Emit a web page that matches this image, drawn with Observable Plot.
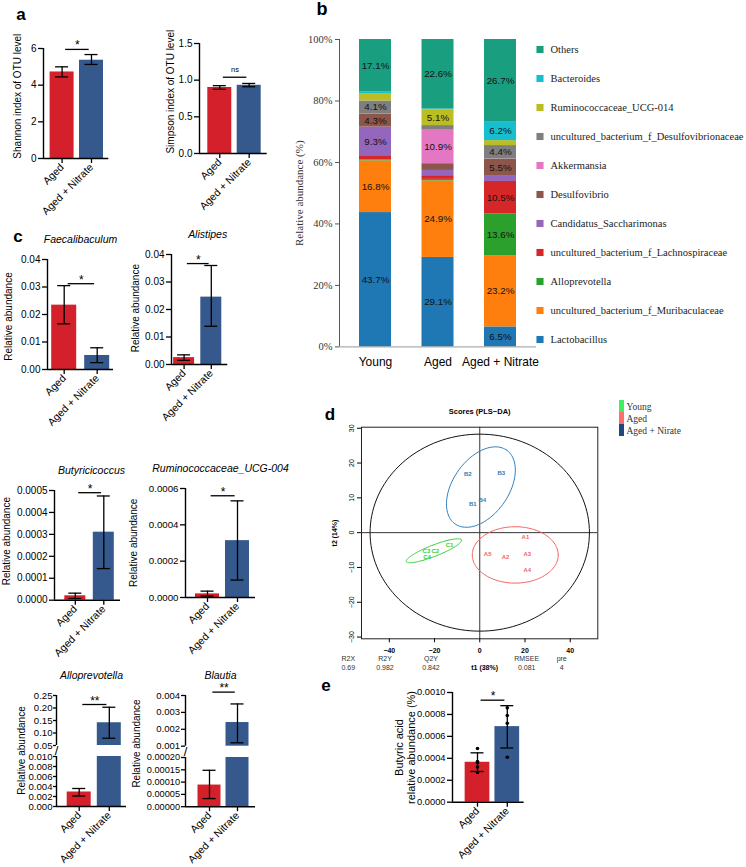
<!DOCTYPE html>
<html>
<head>
<meta charset="utf-8">
<script src="https://cdn.jsdelivr.net/npm/d3@7"></script>
<script src="https://cdn.jsdelivr.net/npm/@observablehq/plot@0.6"></script>
<style>
  html, body { margin: 0; padding: 0; background: #fff; }
  #fig { position: relative; width: 746px; height: 867px; overflow: hidden; background: #fff;
         font-family: "Liberation Sans", Arial, Helvetica, sans-serif; }
  .plab { position: absolute; font-weight: bold; line-height: 1; color: #000; transform: translateX(-50%); }
  .stat { position: absolute; font-size: 7px; line-height: 9.4px; color: #333; transform: translateX(-50%);
          text-align: center; white-space: nowrap; }
</style>
</head>
<body>
<div id="fig"></div>
<script>
// ================= DATA =================
const groups2 = ["Aged", "Aged + Nitrate"];

// panel a
const shannonMean = [4.72, 5.36], shannonLo = [4.45, 5.13], shannonHi = [5.00, 5.67], shannonSig = 5.95;
const shannonTicks = [0, 2, 4, 6];
const simpsonMean = [0.90, 0.93], simpsonLo = [0.875, 0.91], simpsonHi = [0.925, 0.955], simpsonSig = 1.04;
const simpsonTicks = [0, 0.5, 1.0, 1.5];

// panel c
const faecMean = [0.0234, 0.0051], faecLo = [0.0166, 0.0025], faecHi = [0.0305, 0.0079], faecSig = 0.0312;
const faecTicks = [0, 0.01, 0.02, 0.03, 0.04];
const alisMean = [0.0025, 0.0245], alisLo = [0.0015, 0.0139], alisHi = [0.0035, 0.0360], alisSig = 0.0367;
const alisTicks = [0, 0.01, 0.02, 0.03, 0.04];
const butyMean = [0.00002, 0.00031], butyLo = [0.000008, 0.000144], butyHi = [0.000032, 0.000475], butySig = 0.00049;
const butyTicks = [0, 0.0001, 0.0002, 0.0003, 0.0004, 0.0005];
const rumiMean = [0.00002, 0.000313], rumiLo = [0.000008, 0.000096], rumiHi = [0.000035, 0.000532], rumiSig = 0.00056;
const rumiTicks = [0, 0.0002, 0.0004, 0.0006];
const alloMean = [0.0029, 0.141], alloLo = [0.0021, 0.079], alloHi = [0.0036, 0.203], alloSig = 0.214;
const alloUpperTicks = [0.05, 0.10, 0.15, 0.20, 0.25];
const alloLowerTicks = [0, 0.002, 0.004, 0.006, 0.008, 0.010];
const blauMean = [0.000088, 0.0024], blauLo = [0.000033, 0.0012], blauHi = [0.000148, 0.0035], blauSig = 0.0042;
const blauUpperTicks = [0.001, 0.002, 0.003, 0.004];
const blauLowerTicks = [0, 0.00005, 0.00010, 0.00015, 0.00020];

// panel e
const butyrateMean = [0.000364, 0.000689], butyrateLo = [0.00028, 0.000494], butyrateHi = [0.00045, 0.00088], butyrateSig = 0.00093;
const butyrateDotsAged = [0.00049, 0.00037, 0.00036, 0.00032, 0.00027];
const butyrateDotsNitrate = [0.00086, 0.00079, 0.00072, 0.00041];
const butyrateTicks = [0, 0.0002, 0.0004, 0.0006, 0.0008, 0.0010];

// panel b
const groups3 = ["Young", "Aged", "Aged + Nitrate"];
const taxa = ["Lactobacillus", "uncultured_bacterium_f_Muribaculaceae", "Alloprevotella",
  "uncultured_bacterium_f_Lachnospiraceae", "Candidatus_Saccharimonas", "Desulfovibrio", "Akkermansia",
  "uncultured_bacterium_f_Desulfovibrionaceae", "Ruminococcaceae_UCG-014", "Bacteroides", "Others"];
const taxaColors = ["#1f77b4", "#ff7f0e", "#2ca02c", "#d62728", "#9467bd", "#8c564b", "#e377c2",
  "#7f7f7f", "#bcbd22", "#17becf", "#1a9e80"];
const youngPct   = [43.7, 16.8, 0.3, 1.4, 9.3, 4.3, 0.1, 4.1, 2.4, 0.5, 17.1];
const agedPct    = [29.1, 24.9, 0.5, 1.2, 1.7, 2.2, 10.9, 1.5, 5.1, 0.3, 22.6];
const nitratePct = [6.5, 23.2, 13.6, 10.5, 1.7, 5.5, 0.1, 4.4, 1.6, 6.2, 26.7];
const pctTicks = [0, 20, 40, 60, 80, 100];

// panel d
const groupsD = ["Young", "Aged", "Aged + Nirate"];
const groupsDColors = ["#2fcf2f", "#f26262", "#2b7bbb"];
const legendDColors = ["#3fef5f", "#ff6e6e", "#1d4a7a"];
const scoreIds = ["A1", "A2", "A3", "A4", "A5", "B1", "B2", "B3", "B4", "C1", "C2", "C3", "C4"];
const scoreT1  = [20.2, 11.4, 21.0, 21.0, 3.5, -3.1, -5.3, 9.5, 1.1, -13.4, -19.7, -23.6, -23.3];
const scoreT2  = [-1.4, -7.0, -6.2, -10.8, -6.2, 8.3, 16.9, 17.2, 9.4, -3.5, -5.2, -5.2, -6.9];
const ellCx = [-20.3, 15.7, 0.5], ellCy = [-5.2, -6.4, 13.1];
const ellU = [[12.2, 3.1], [19.0, 0], [11.4, 10.6]];
const ellV = [[-0.9, 1.5], [0, 8.1], [-10.1, 4.6]];
const hotellingR = [48.5, 28.3];
const dXTicks = [-40, -20, 0, 20, 40], dYTicks = [-30, -20, -10, 0, 10, 20, 30];
const statNames = ["R2X", "R2Y", "Q2Y", "RMSEE", "pre"];
const statValues = ["0.69", "0.982", "0.842", "0.081", "4"];

// ================= RENDER =================
const RED = "#d4202a", BLUE = "#35598c";
const SANS = '"Liberation Sans", Arial, Helvetica, sans-serif';
const SERIF = '"Liberation Serif", "Times New Roman", Times, serif';
const MID = {textAnchor: "middle", lineAnchor: "middle"};
const fig = document.getElementById("fig");
function css(left, top) {
  return {position: "absolute", left: left + "px", top: top + "px", background: "transparent",
          overflow: "visible", fontFamily: SANS, maxWidth: "none"};
}
function add(node) { fig.appendChild(node); }

function gpPanel(c) {
  const step = c.c1 - c.c0;
  const xmin = (c.axisX - c.c0) / step, xmax = (c.axisEnd - c.c0) / step;
  const half = c.barW / 2 / step, cap = 6.5 / step;
  const ML = 80, MR = 14, MT = 40, MB = 90;
  const [d0, d1] = c.domain;
  const rows = c.mean.map((m, i) => ({i, m, lo: c.lo[i], hi: c.hi[i], color: i === 0 ? RED : BLUE}));
  const bars = rows.filter(r => r.m > d0);
  const errs = rows.filter(r => r.m >= d0 && r.m <= d1);
  const tf = c.tickFont || 10;
  const marks = [
    Plot.rect(bars, {x1: r => r.i - half, x2: r => r.i + half, y1: d0, y2: r => Math.min(r.m, d1), fill: "color"})
  ];
  if (c.dots) {
    const pts = c.dots.flatMap((arr, i) => arr.map(v => ({i, v})));
    marks.push(Plot.dot(pts, {x: "i", y: "v", r: 1.8, fill: "black", stroke: "none"}));
  }
  marks.push(
    Plot.ruleX(errs, {x: "i", y1: "lo", y2: "hi", stroke: "black", strokeWidth: 1.3}),
    Plot.ruleY(errs, {y: "lo", x1: r => r.i - cap, x2: r => r.i + cap, stroke: "black", strokeWidth: 1.3}),
    Plot.ruleY(errs, {y: "hi", x1: r => r.i - cap, x2: r => r.i + cap, stroke: "black", strokeWidth: 1.3}),
    Plot.ruleX([xmin], {stroke: "black", strokeWidth: 1.4}),
    Plot.axisY({ticks: c.ticks, tickFormat: c.fmt, tickSize: c.tickSize ?? 5, tickPadding: c.tickPadding ?? 2,
      fontSize: tf, strokeWidth: 1.3, label: null})
  );
  if (c.xAxis) {
    marks.push(Plot.ruleY([d0], {stroke: "black", strokeWidth: 1.4}));
    marks.push(Plot.axisX({ticks: [0, 1], tickFormat: i => groups2[i], tickRotate: -45, tickSize: 5, tickPadding: 2,
      fontSize: 10.5, strokeWidth: 1.3, label: null}));
  }
  if (c.sig != null) {
    const ns = c.sigText === "ns";
    marks.push(Plot.ruleY([c.sig], {x1: 0.12, x2: 0.92, stroke: "black", strokeWidth: 1.3}));
    marks.push(Plot.text([c.sigText], {x: 0.52, y: c.sig, text: d => d, dy: ns ? -7.5 : -3.8,
      fontSize: ns ? 7.5 : 12, ...MID}));
  }
  if (c.title) marks.push(Plot.text([c.title], {frameAnchor: "top", text: d => d, dy: -19.5, dx: c.titleDx || 0,
    fontStyle: "italic", fontSize: 10.5, ...MID}));
  if (c.ylabel) marks.push(Plot.text([c.ylabel], {frameAnchor: "top-left", text: d => d, rotate: -90,
    dx: c.ylabelX - c.axisX, dy: c.ylabelY - c.yTop, fontSize: c.ylabelFont || 10, lineHeight: 1.1, ...MID}));
  if (c.breakMark) marks.push(Plot.text(["/"], {frameAnchor: "top-left", text: d => d, dy: -5.3, fontSize: 13, ...MID}));
  add(Plot.plot({
    width: ML + (c.axisEnd - c.axisX) + MR,
    height: MT + (c.yBot - c.yTop) + MB,
    marginLeft: ML, marginRight: MR, marginTop: MT, marginBottom: MB,
    x: c.xAxis ? {domain: [xmin, xmax]} : {domain: [xmin, xmax], axis: null},
    y: {domain: c.domain},
    color: {type: "identity"},
    style: css(c.axisX - ML, c.yTop - MT),
    marks
  }));
}

const f1 = d => d.toFixed(1), f2 = d => d.toFixed(2), f3 = d => d.toFixed(3), f4 = d => d.toFixed(4), f5 = d => d.toFixed(5);

// ---- panel a ----
gpPanel({mean: shannonMean, lo: shannonLo, hi: shannonHi, domain: [0, 6], ticks: shannonTicks, fmt: d => String(d),
  axisX: 42.7, axisEnd: 108, c0: 61.3, c1: 90.7, barW: 24, yTop: 48.3, yBot: 158.3, xAxis: true,
  sig: shannonSig, sigText: "*", ylabel: "Shannon index of OTU level", ylabelX: 17, ylabelY: 96});
gpPanel({mean: simpsonMean, lo: simpsonLo, hi: simpsonHi, domain: [0, 1.5], ticks: simpsonTicks, fmt: f1,
  axisX: 199, axisEnd: 266.7, c0: 219.3, c1: 248.7, barW: 24, yTop: 43.3, yBot: 153.3, xAxis: true,
  sig: simpsonSig, sigText: "ns", ylabel: "Simpson index of OTU level", ylabelX: 170, ylabelY: 91.5});

// ---- panel c ----
gpPanel({mean: faecMean, lo: faecLo, hi: faecHi, domain: [0, 0.04], ticks: faecTicks, fmt: f2,
  axisX: 47, axisEnd: 113, c0: 63.7, c1: 96.7, barW: 25, yTop: 259, yBot: 369, xAxis: true,
  sig: faecSig, sigText: "*", title: "Faecalibaculum", ylabel: "Relative abundance", ylabelX: 8, ylabelY: 316});
gpPanel({mean: alisMean, lo: alisLo, hi: alisHi, domain: [0, 0.04], ticks: alisTicks, fmt: f2,
  axisX: 170.7, axisEnd: 227, c0: 183.3, c1: 210.5, barW: 21, yTop: 254.3, yBot: 364.3, xAxis: true,
  sig: alisSig, sigText: "*", title: "Alistipes", titleDx: 8, ylabel: "Relative abundance", ylabelX: 135, ylabelY: 308});
gpPanel({mean: butyMean, lo: butyLo, hi: butyHi, domain: [0, 0.0005], ticks: butyTicks, fmt: f4,
  axisX: 54, axisEnd: 120, c0: 74.8, c1: 103.3, barW: 21, yTop: 490.3, yBot: 600, xAxis: true,
  sig: butySig, sigText: "*", title: "Butyricicoccus", titleDx: 4, ylabel: "Relative abundance", ylabelX: 6, ylabelY: 541});
gpPanel({mean: rumiMean, lo: rumiLo, hi: rumiHi, domain: [0, 0.0006], ticks: rumiTicks, fmt: f4,
  axisX: 185, axisEnd: 255, c0: 207, c1: 237, barW: 24, yTop: 487.7, yBot: 596.7, xAxis: true, tickFont: 9.7,
  sig: rumiSig, sigText: "*", title: "Ruminococcaceae_UCG-004", ylabel: "Relative abundance", ylabelX: 133, ylabelY: 542});
// Alloprevotella (broken axis)
gpPanel({mean: alloMean, lo: alloLo, hi: alloHi, domain: [0.05, 0.25], ticks: alloUpperTicks, fmt: f2,
  axisX: 56, axisEnd: 126, c0: 78.7, c1: 108.8, barW: 24, yTop: 695, yBot: 745, xAxis: false,
  tickSize: 3, tickPadding: 1, tickFont: 9.6,
  sig: alloSig, sigText: "**", title: "Alloprevotella", ylabel: "Relative abundance", ylabelX: 21, ylabelY: 750});
gpPanel({mean: alloMean, lo: alloLo, hi: alloHi, domain: [0, 0.010], ticks: alloLowerTicks, fmt: f3,
  axisX: 56, axisEnd: 126, c0: 78.7, c1: 108.8, barW: 24, yTop: 755.7, yBot: 805.7, xAxis: true, breakMark: true,
  tickSize: 3, tickPadding: 1, tickFont: 9.6});
// Blautia (broken axis)
gpPanel({mean: blauMean, lo: blauLo, hi: blauHi, domain: [0.001, 0.004], ticks: blauUpperTicks, fmt: f3,
  axisX: 185, axisEnd: 255, c0: 209, c1: 237, barW: 23, yTop: 695, yBot: 745.7, xAxis: false, tickFont: 9.5,
  tickSize: 4, tickPadding: 1.5,
  sig: blauSig, sigText: "**", title: "Blautia", ylabel: "Relative abundance", ylabelX: 136, ylabelY: 743});
gpPanel({mean: blauMean, lo: blauLo, hi: blauHi, domain: [0, 0.0002], ticks: blauLowerTicks, fmt: f5,
  axisX: 185, axisEnd: 255, c0: 209, c1: 237, barW: 23, yTop: 756.5, yBot: 805.7, xAxis: true, tickFont: 9.2, breakMark: true,
  tickSize: 4, tickPadding: 1.5});

// ---- panel e ----
gpPanel({mean: butyrateMean, lo: butyrateLo, hi: butyrateHi, dots: [butyrateDotsAged, butyrateDotsNitrate],
  domain: [0, 0.001], ticks: butyrateTicks, fmt: f4, tickFont: 9.3,
  axisX: 451.7, axisEnd: 523.3, c0: 476.7, c1: 506.5, barW: 24.7, yTop: 692, yBot: 801.7, xAxis: true,
  sig: butyrateSig, sigText: "*", ylabel: "Butyric acid\nrelative abundance (%)", ylabelX: 404, ylabelY: 747, ylabelFont: 11});

// ---- panel b ----
{
  const step = 62.5, c0 = 375, axisX = 339, axisEnd = 536;
  const xmin = (axisX - c0) / step, xmax = (axisEnd - c0) / step, hw = 16 / step;
  const yTop = 39.3, yBot = 346.7;
  const ML = 70, MR = 0, MT = 20, MB = 30;
  const pct = [youngPct, agedPct, nitratePct];
  const rows = groups3.flatMap((g, gi) => taxa.map((t, ti) => ({gi, taxon: t, value: pct[gi][ti]})));
  add(Plot.plot({
    width: ML + axisEnd - axisX + MR, height: MT + yBot - yTop + MB,
    marginLeft: ML, marginRight: MR, marginTop: MT, marginBottom: MB,
    x: {domain: [xmin, xmax]}, y: {domain: [0, 100]},
    color: {domain: taxa, range: taxaColors},
    style: css(axisX - ML, yTop - MT),
    marks: [
      Plot.rect(rows, Plot.stackY({x: "gi", y: "value", z: "taxon", order: taxa,
        x1: d => d.gi - hw, x2: d => d.gi + hw, fill: "taxon"})),
      Plot.text(rows, Plot.stackY({x: "gi", y: "value", z: "taxon", order: taxa,
        text: d => d.value >= 4 ? d.value.toFixed(1) + "%" : "", fontSize: 9.8, fill: "#111"})),
      Plot.ruleY([0], {stroke: "#999"}),
      Plot.ruleX([xmin], {stroke: "#555"}),
      Plot.axisY({ticks: pctTicks, tickFormat: d => d + "%", tickSize: 4, tickPadding: 3,
        fontFamily: SERIF, fontSize: 10.5, fill: "#333", stroke: "#555", label: null}),
      Plot.axisX({ticks: [0, 1, 2], tickFormat: i => groups3[i], tickSize: 0, tickPadding: 11,
        fontSize: 12, label: null}),
      Plot.text(["Relative abundance (%)"], {frameAnchor: "left", text: d => d, rotate: -90, dx: -40,
        fontFamily: SERIF, fontSize: 11, fill: "#333", ...MID})
    ]
  }));
  // legend
  const legendOrder = taxa.slice().reverse();
  add(Plot.plot({
    width: 216, height: 330, margin: 0,
    x: {domain: [0, 1], range: [9.5, 200], axis: null},
    y: {type: "point", domain: legendOrder, range: [16.7, 312.2], padding: 0, axis: null},
    color: {domain: taxa, range: taxaColors},
    style: css(530, 30),
    marks: [
      Plot.dot(legendOrder, {x: 0, y: d => d, fill: d => d, symbol: "square", r: 4}),
      Plot.text(legendOrder, {x: 0, y: d => d, text: d => d, dx: 10.5, textAnchor: "start",
        fontFamily: SERIF, fontSize: 10.5, fill: "#222"})
    ]
  }));
}

// ---- panel d ----
{
  const left = 300, top = 395, ML = 61, MT = 31.7, MR = 10, MB = 40;
  const frameR = 597.3, frameB = 638.3;
  const letterGroup = {A: "Aged", B: "Aged + Nirate", C: "Young"};
  const scores = scoreIds.map((id, k) => ({id, t1: scoreT1[k], t2: scoreT2[k], g: letterGroup[id[0]]}));
  const ring = (cx, cy, u, v, g) => d3.range(0, 145).map(k => {
    const t = k / 144 * 2 * Math.PI;
    return {x: cx + u[0] * Math.cos(t) + v[0] * Math.sin(t), y: cy + u[1] * Math.cos(t) + v[1] * Math.sin(t), g};
  });
  const ellipses = groupsD.flatMap((g, k) => ring(ellCx[k], ellCy[k], ellU[k], ellV[k], g));
  const hotelling = ring(0, 0, [hotellingR[0], 0], [0, hotellingR[1]], "T2");
  add(Plot.plot({
    width: frameR - left + MR, height: frameB - top + MB,
    marginLeft: ML, marginTop: MT, marginRight: MR, marginBottom: MB,
    x: {domain: [-52.3, 52.2]}, y: {domain: [-30.5, 30.3]},
    color: {domain: groupsD, range: groupsDColors},
    style: css(left, top),
    marks: [
      Plot.frame({stroke: "#222"}),
      Plot.ruleX([0], {stroke: "#333"}),
      Plot.ruleY([0], {stroke: "#333"}),
      Plot.line(hotelling, {x: "x", y: "y", stroke: "#111", strokeWidth: 1}),
      Plot.line(ellipses, {x: "x", y: "y", z: "g", stroke: "g", strokeWidth: 1}),
      Plot.text(scores, {x: "t1", y: "t2", text: "id", fill: "g", fontSize: 6, fontWeight: "bold"}),
      Plot.axisX({ticks: dXTicks, tickSize: 4, tickPadding: 5, fontSize: 7, fontWeight: "bold", label: null}),
      Plot.axisY({ticks: dYTicks, tickSize: 4, tickPadding: 3, tickRotate: -90, fontSize: 7, label: null}),
      Plot.text(["Scores (PLS\u2212DA)"], {frameAnchor: "top", text: d => d, dy: -16, fontWeight: "bold", fontSize: 7.5, ...MID}),
      Plot.text(["t1 (38%)"], {frameAnchor: "bottom", text: d => d, dx: 5, dy: 29.4, fontWeight: "bold", fontSize: 7, ...MID}),
      Plot.text(["t2 (14%)"], {frameAnchor: "left", text: d => d, dx: -27, rotate: -90, fontWeight: "bold", fontSize: 7, ...MID})
    ]
  }));
  // legend d
  add(Plot.plot({
    width: 130, height: 50, margin: 0,
    x: {type: "band", domain: ["s"], range: [8.3, 14], padding: 0, axis: null},
    y: {type: "band", domain: groupsD, range: [4.3, 40.7], padding: 0, axis: null},
    color: {domain: groupsD, range: legendDColors},
    style: css(610, 395),
    marks: [
      Plot.cell(groupsD, {x: () => "s", y: d => d, fill: d => d, inset: 0}),
      Plot.text(groupsD, {x: () => "s", y: d => d, text: d => d, dx: 4.5, textAnchor: "start",
        fontFamily: SERIF, fontSize: 9.5, fill: "#333"})
    ]
  }));
  // stats
  const statX = [348.3, 385, 431, 526.7, 561.7];
  statNames.forEach((n, k) => {
    const div = document.createElement("div");
    div.className = "stat";
    div.style.left = statX[k] + "px";
    div.style.top = "653.6px";
    div.innerHTML = n + "<br>" + statValues[k];
    fig.appendChild(div);
  });
}

// ---- panel letters ----
function letter(ch, cx, cy, fs, tall) {
  const div = document.createElement("div");
  div.className = "plab";
  div.textContent = ch;
  div.style.fontSize = fs + "px";
  div.style.left = cx + "px";
  div.style.top = (cy - (tall ? 0.481 : 0.587) * fs) + "px";
  fig.appendChild(div);
}
letter("a", 21, 16, 17, false);
letter("b", 322, 8.5, 18, true);
letter("c", 18, 238, 17, false);
letter("d", 330, 414, 17, true);
letter("e", 326, 687, 17, false);
</script>
</body>
</html>
